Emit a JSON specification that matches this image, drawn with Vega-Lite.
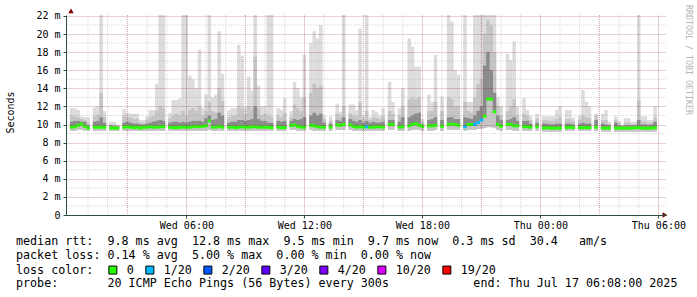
{
"$schema": "https://vega.github.io/schema/vega-lite/v6.json",
"width": 600, "height": 200,
"autosize": {"type": "none"},
"padding": {"left": 66, "top": 15, "right": 31, "bottom": 82},
"background": "#ffffff",
"title": {"text": ["median\u00a0rtt:\u00a0\u00a09.8\u00a0ms\u00a0avg\u00a0\u00a012.8\u00a0ms\u00a0max\u00a0\u00a09.5\u00a0ms\u00a0min\u00a0\u00a09.7\u00a0ms\u00a0now\u00a0\u00a00.3\u00a0ms\u00a0sd\u00a0\u00a030.4\u00a0\u00a0\u00a0am/s", "packet\u00a0loss:\u00a00.14\u00a0%\u00a0avg\u00a0\u00a05.00\u00a0%\u00a0max\u00a0\u00a00.00\u00a0%\u00a0min\u00a0\u00a00.00\u00a0%\u00a0now"],
  "subtitle": "probe:\u00a0\u00a0\u00a0\u00a0\u00a0\u00a0\u00a020\u00a0ICMP\u00a0Echo\u00a0Pings\u00a0(56\u00a0Bytes)\u00a0every\u00a0300s\u00a0\u00a0\u00a0\u00a0\u00a0\u00a0\u00a0\u00a0\u00a0\u00a0\u00a0\u00a0end:\u00a0Thu\u00a0Jul\u00a017\u00a006:08:00\u00a02025",
  "orient": "bottom", "anchor": "start", "frame": "group", "dx": -50, "offset": -41,
  "font": "DejaVu Sans Mono", "fontSize": 11.7, "fontWeight": "normal", "color": "#000000", "lineHeight": 14, "baseline": "top",
  "subtitleFont": "DejaVu Sans Mono", "subtitleFontSize": 11.7, "subtitleFontWeight": "normal", "subtitleColor": "#000000", "subtitleLineHeight": 14, "subtitlePadding": 16},
"datasets": {
"rtt": [
{"t":"2025-07-16T00:10:00Z","lo":9.3,"dk":10.3,"mh":11.0,"hi":11.8,"med":9.7,"loss":"0"},
{"t":"2025-07-16T00:20:00Z","lo":9.3,"dk":10.4,"mh":10.9,"hi":11.8,"med":9.75,"loss":"0"},
{"t":"2025-07-16T00:30:00Z","lo":9.4,"dk":10.4,"mh":10.8,"hi":11.6,"med":9.9,"loss":"0"},
{"t":"2025-07-16T00:40:00Z","lo":9.4,"dk":10.3,"mh":10.6,"hi":10.9,"med":10.05,"loss":"0"},
{"t":"2025-07-16T00:50:00Z","lo":9.3,"dk":10.3,"mh":10.5,"hi":10.8,"med":9.8,"loss":"0"},
{"t":"2025-07-16T01:00:00Z","lo":9.3,"dk":9.9,"mh":10.2,"hi":10.8,"med":9.6,"loss":"0"},
{"t":"2025-07-16T01:20:00Z","lo":9.3,"dk":10.3,"mh":10.9,"hi":11.9,"med":9.7,"loss":"0"},
{"t":"2025-07-16T01:30:00Z","lo":9.3,"dk":10.4,"mh":11.1,"hi":12.0,"med":9.7,"loss":"0"},
{"t":"2025-07-16T01:40:00Z","lo":9.3,"dk":10.8,"mh":13.5,"hi":22.1,"med":9.7,"loss":"0"},
{"t":"2025-07-16T01:50:00Z","lo":9.3,"dk":10.2,"mh":10.8,"hi":11.5,"med":9.7,"loss":"0"},
{"t":"2025-07-16T02:10:00Z","lo":9.3,"dk":9.9,"mh":10.0,"hi":10.3,"med":9.6,"loss":"0"},
{"t":"2025-07-16T02:20:00Z","lo":9.3,"dk":9.8,"mh":10.0,"hi":10.3,"med":9.6,"loss":"0"},
{"t":"2025-07-16T02:30:00Z","lo":9.3,"dk":9.8,"mh":9.9,"hi":10.0,"med":9.6,"loss":"0"},
{"t":"2025-07-16T02:50:00Z","lo":9.3,"dk":10.2,"mh":11.0,"hi":11.7,"med":9.7,"loss":"0"},
{"t":"2025-07-16T03:00:00Z","lo":9.3,"dk":10.3,"mh":10.8,"hi":11.3,"med":9.75,"loss":"0"},
{"t":"2025-07-16T03:10:00Z","lo":9.3,"dk":10.2,"mh":10.8,"hi":11.2,"med":9.7,"loss":"0"},
{"t":"2025-07-16T03:20:00Z","lo":9.3,"dk":10.1,"mh":10.6,"hi":11.2,"med":9.65,"loss":"0"},
{"t":"2025-07-16T03:30:00Z","lo":9.3,"dk":10.1,"mh":10.6,"hi":11.2,"med":9.7,"loss":"0"},
{"t":"2025-07-16T03:40:00Z","lo":9.3,"dk":10.0,"mh":10.2,"hi":10.5,"med":9.6,"loss":"0"},
{"t":"2025-07-16T03:50:00Z","lo":9.3,"dk":10.0,"mh":10.2,"hi":10.5,"med":9.7,"loss":"0"},
{"t":"2025-07-16T04:00:00Z","lo":9.3,"dk":10.1,"mh":10.5,"hi":10.9,"med":9.7,"loss":"0"},
{"t":"2025-07-16T04:10:00Z","lo":9.3,"dk":10.2,"mh":10.8,"hi":11.6,"med":9.75,"loss":"0"},
{"t":"2025-07-16T04:20:00Z","lo":9.3,"dk":10.3,"mh":10.9,"hi":11.6,"med":9.7,"loss":"0"},
{"t":"2025-07-16T04:30:00Z","lo":9.3,"dk":10.4,"mh":11.5,"hi":14.5,"med":9.7,"loss":"0"},
{"t":"2025-07-16T04:40:00Z","lo":9.3,"dk":10.5,"mh":12.0,"hi":22.1,"med":9.75,"loss":"0"},
{"t":"2025-07-16T04:50:00Z","lo":9.3,"dk":10.4,"mh":11.8,"hi":22.1,"med":9.75,"loss":"0"},
{"t":"2025-07-16T05:10:00Z","lo":9.3,"dk":10.2,"mh":10.7,"hi":11.3,"med":9.7,"loss":"0"},
{"t":"2025-07-16T05:20:00Z","lo":9.3,"dk":10.3,"mh":11.0,"hi":12.7,"med":9.65,"loss":"0"},
{"t":"2025-07-16T05:30:00Z","lo":9.3,"dk":10.3,"mh":11.2,"hi":12.7,"med":9.65,"loss":"0"},
{"t":"2025-07-16T05:40:00Z","lo":9.3,"dk":10.2,"mh":11.0,"hi":12.9,"med":9.7,"loss":"0"},
{"t":"2025-07-16T05:50:00Z","lo":9.3,"dk":10.3,"mh":11.5,"hi":22.1,"med":9.7,"loss":"0"},
{"t":"2025-07-16T06:00:00Z","lo":9.3,"dk":10.2,"mh":11.0,"hi":22.1,"med":9.7,"loss":"0"},
{"t":"2025-07-16T06:10:00Z","lo":9.3,"dk":10.3,"mh":11.6,"hi":15.4,"med":9.7,"loss":"0"},
{"t":"2025-07-16T06:20:00Z","lo":9.3,"dk":10.4,"mh":11.8,"hi":15.0,"med":9.75,"loss":"0"},
{"t":"2025-07-16T06:30:00Z","lo":9.3,"dk":10.4,"mh":11.5,"hi":14.0,"med":9.8,"loss":"0"},
{"t":"2025-07-16T06:40:00Z","lo":9.3,"dk":10.4,"mh":12.0,"hi":18.3,"med":9.75,"loss":"0"},
{"t":"2025-07-16T06:50:00Z","lo":9.3,"dk":10.3,"mh":11.0,"hi":11.8,"med":9.8,"loss":"0"},
{"t":"2025-07-16T07:00:00Z","lo":9.3,"dk":10.7,"mh":11.5,"hi":13.3,"med":9.85,"loss":"0"},
{"t":"2025-07-16T07:10:00Z","lo":9.4,"dk":11.0,"mh":12.5,"hi":22.1,"med":10.4,"loss":"0"},
{"t":"2025-07-16T07:20:00Z","lo":9.3,"dk":10.5,"mh":11.5,"hi":13.0,"med":9.7,"loss":"0"},
{"t":"2025-07-16T07:30:00Z","lo":9.3,"dk":10.6,"mh":11.3,"hi":13.3,"med":9.7,"loss":"0"},
{"t":"2025-07-16T07:40:00Z","lo":9.3,"dk":11.3,"mh":14.0,"hi":20.3,"med":9.8,"loss":"0"},
{"t":"2025-07-16T07:50:00Z","lo":9.3,"dk":11.0,"mh":12.6,"hi":15.6,"med":9.7,"loss":"0"},
{"t":"2025-07-16T08:10:00Z","lo":9.3,"dk":10.2,"mh":10.8,"hi":11.6,"med":9.7,"loss":"0"},
{"t":"2025-07-16T08:20:00Z","lo":9.3,"dk":10.3,"mh":11.0,"hi":11.8,"med":9.7,"loss":"0"},
{"t":"2025-07-16T08:30:00Z","lo":9.3,"dk":10.3,"mh":11.0,"hi":11.8,"med":9.65,"loss":"0"},
{"t":"2025-07-16T08:40:00Z","lo":9.3,"dk":10.5,"mh":12.0,"hi":18.8,"med":9.7,"loss":"0"},
{"t":"2025-07-16T08:50:00Z","lo":9.3,"dk":10.5,"mh":11.8,"hi":17.6,"med":9.75,"loss":"0"},
{"t":"2025-07-16T09:00:00Z","lo":9.3,"dk":10.4,"mh":11.2,"hi":11.9,"med":9.7,"loss":"0"},
{"t":"2025-07-16T09:10:00Z","lo":9.3,"dk":10.5,"mh":12.0,"hi":15.3,"med":9.7,"loss":"0"},
{"t":"2025-07-16T09:20:00Z","lo":9.3,"dk":10.6,"mh":11.8,"hi":13.8,"med":9.75,"loss":"0"},
{"t":"2025-07-16T09:30:00Z","lo":9.3,"dk":12.0,"mh":17.5,"hi":22.1,"med":9.75,"loss":"0"},
{"t":"2025-07-16T09:40:00Z","lo":9.3,"dk":10.6,"mh":11.8,"hi":14.3,"med":9.7,"loss":"0"},
{"t":"2025-07-16T09:50:00Z","lo":9.3,"dk":10.4,"mh":11.0,"hi":12.0,"med":9.7,"loss":"0"},
{"t":"2025-07-16T10:00:00Z","lo":9.3,"dk":10.4,"mh":11.2,"hi":12.0,"med":9.7,"loss":"0"},
{"t":"2025-07-16T10:10:00Z","lo":9.3,"dk":10.2,"mh":11.0,"hi":22.1,"med":9.7,"loss":"0"},
{"t":"2025-07-16T10:20:00Z","lo":9.3,"dk":10.2,"mh":10.8,"hi":22.1,"med":9.65,"loss":"0"},
{"t":"2025-07-16T10:40:00Z","lo":9.3,"dk":10.4,"mh":11.0,"hi":11.8,"med":9.7,"loss":"0"},
{"t":"2025-07-16T10:50:00Z","lo":9.3,"dk":10.3,"mh":10.8,"hi":11.6,"med":9.65,"loss":"0"},
{"t":"2025-07-16T11:00:00Z","lo":9.3,"dk":10.4,"mh":11.3,"hi":12.9,"med":9.65,"loss":"0"},
{"t":"2025-07-16T11:20:00Z","lo":9.4,"dk":10.4,"mh":10.8,"hi":11.5,"med":9.9,"loss":"0"},
{"t":"2025-07-16T11:30:00Z","lo":9.4,"dk":10.6,"mh":12.2,"hi":14.7,"med":9.95,"loss":"0"},
{"t":"2025-07-16T11:40:00Z","lo":9.3,"dk":10.5,"mh":11.8,"hi":14.0,"med":9.8,"loss":"0"},
{"t":"2025-07-16T11:50:00Z","lo":9.3,"dk":10.6,"mh":11.5,"hi":13.0,"med":9.7,"loss":"0"},
{"t":"2025-07-16T12:00:00Z","lo":9.3,"dk":10.8,"mh":13.0,"hi":17.7,"med":9.7,"loss":"0"},
{"t":"2025-07-16T12:20:00Z","lo":9.4,"dk":11.0,"mh":13.5,"hi":19.0,"med":9.9,"loss":"0"},
{"t":"2025-07-16T12:30:00Z","lo":9.3,"dk":11.3,"mh":14.5,"hi":20.3,"med":9.85,"loss":"0"},
{"t":"2025-07-16T12:40:00Z","lo":9.3,"dk":11.0,"mh":14.0,"hi":19.5,"med":9.75,"loss":"0"},
{"t":"2025-07-16T12:50:00Z","lo":9.3,"dk":11.2,"mh":14.3,"hi":21.0,"med":9.7,"loss":"0"},
{"t":"2025-07-16T13:00:00Z","lo":9.3,"dk":10.2,"mh":10.6,"hi":11.0,"med":9.7,"loss":"0"},
{"t":"2025-07-16T13:20:00Z","lo":9.3,"dk":10.1,"mh":10.4,"hi":10.9,"med":9.7,"loss":"0"},
{"t":"2025-07-16T13:40:00Z","lo":9.4,"dk":10.5,"mh":11.2,"hi":12.3,"med":9.95,"loss":"0"},
{"t":"2025-07-16T13:50:00Z","lo":9.4,"dk":10.4,"mh":10.9,"hi":11.4,"med":9.9,"loss":"0"},
{"t":"2025-07-16T14:00:00Z","lo":9.4,"dk":10.8,"mh":12.0,"hi":22.1,"med":10.0,"loss":"0"},
{"t":"2025-07-16T14:20:00Z","lo":9.4,"dk":10.6,"mh":11.2,"hi":12.2,"med":9.95,"loss":"0"},
{"t":"2025-07-16T14:30:00Z","lo":9.3,"dk":10.4,"mh":11.0,"hi":12.2,"med":9.8,"loss":"0"},
{"t":"2025-07-16T14:40:00Z","lo":9.3,"dk":10.3,"mh":10.9,"hi":11.6,"med":9.7,"loss":"0"},
{"t":"2025-07-16T14:50:00Z","lo":9.3,"dk":10.5,"mh":12.5,"hi":20.6,"med":9.75,"loss":"0"},
{"t":"2025-07-16T15:00:00Z","lo":9.3,"dk":10.2,"mh":10.6,"hi":11.0,"med":9.7,"loss":"0"},
{"t":"2025-07-16T15:10:00Z","lo":9.3,"dk":10.4,"mh":11.5,"hi":22.1,"med":9.75,"loss":"1/20"},
{"t":"2025-07-16T15:20:00Z","lo":9.3,"dk":10.2,"mh":10.5,"hi":10.8,"med":9.7,"loss":"0"},
{"t":"2025-07-16T15:30:00Z","lo":9.3,"dk":10.3,"mh":10.8,"hi":11.6,"med":9.7,"loss":"0"},
{"t":"2025-07-16T15:40:00Z","lo":9.3,"dk":10.2,"mh":10.7,"hi":11.4,"med":9.75,"loss":"0"},
{"t":"2025-07-16T15:50:00Z","lo":9.3,"dk":10.2,"mh":10.6,"hi":11.0,"med":9.75,"loss":"0"},
{"t":"2025-07-16T16:00:00Z","lo":9.3,"dk":10.3,"mh":10.9,"hi":11.8,"med":9.7,"loss":"0"},
{"t":"2025-07-16T16:20:00Z","lo":9.4,"dk":10.5,"mh":11.5,"hi":14.7,"med":10.0,"loss":"0"},
{"t":"2025-07-16T16:30:00Z","lo":9.4,"dk":10.5,"mh":11.2,"hi":12.5,"med":10.0,"loss":"0"},
{"t":"2025-07-16T16:50:00Z","lo":9.3,"dk":10.3,"mh":11.0,"hi":11.8,"med":9.7,"loss":"0"},
{"t":"2025-07-16T17:00:00Z","lo":9.3,"dk":10.8,"mh":12.0,"hi":14.0,"med":9.75,"loss":"0"},
{"t":"2025-07-16T17:20:00Z","lo":9.3,"dk":10.8,"mh":12.8,"hi":19.5,"med":9.85,"loss":"0"},
{"t":"2025-07-16T17:30:00Z","lo":9.4,"dk":11.0,"mh":13.0,"hi":18.6,"med":10.0,"loss":"0"},
{"t":"2025-07-16T17:40:00Z","lo":9.4,"dk":11.2,"mh":12.8,"hi":16.4,"med":10.1,"loss":"0"},
{"t":"2025-07-16T17:50:00Z","lo":9.4,"dk":11.3,"mh":13.0,"hi":16.4,"med":9.9,"loss":"0"},
{"t":"2025-07-16T18:00:00Z","lo":9.3,"dk":10.0,"mh":10.3,"hi":10.6,"med":9.8,"loss":"0"},
{"t":"2025-07-16T18:20:00Z","lo":9.3,"dk":10.5,"mh":11.5,"hi":13.3,"med":9.85,"loss":"0"},
{"t":"2025-07-16T18:30:00Z","lo":9.3,"dk":10.6,"mh":11.5,"hi":12.5,"med":9.85,"loss":"0"},
{"t":"2025-07-16T18:40:00Z","lo":9.4,"dk":10.8,"mh":12.5,"hi":17.7,"med":9.9,"loss":"0"},
{"t":"2025-07-16T19:00:00Z","lo":9.3,"dk":10.5,"mh":11.5,"hi":13.1,"med":9.8,"loss":"0"},
{"t":"2025-07-16T19:20:00Z","lo":9.4,"dk":10.8,"mh":13.0,"hi":22.1,"med":10.0,"loss":"0"},
{"t":"2025-07-16T19:30:00Z","lo":9.4,"dk":10.8,"mh":12.8,"hi":21.4,"med":10.05,"loss":"0"},
{"t":"2025-07-16T19:40:00Z","lo":9.4,"dk":10.6,"mh":12.0,"hi":16.0,"med":10.0,"loss":"0"},
{"t":"2025-07-16T19:50:00Z","lo":9.4,"dk":10.6,"mh":12.0,"hi":15.5,"med":9.9,"loss":"0"},
{"t":"2025-07-16T20:10:00Z","lo":9.3,"dk":10.8,"mh":12.5,"hi":22.1,"med":9.75,"loss":"1/20"},
{"t":"2025-07-16T20:20:00Z","lo":9.4,"dk":10.7,"mh":11.5,"hi":12.5,"med":10.0,"loss":"0"},
{"t":"2025-07-16T20:30:00Z","lo":9.4,"dk":10.6,"mh":11.3,"hi":12.5,"med":10.0,"loss":"0"},
{"t":"2025-07-16T20:40:00Z","lo":9.4,"dk":11.0,"mh":13.0,"hi":22.1,"med":10.0,"loss":"1/20"},
{"t":"2025-07-16T20:50:00Z","lo":9.5,"dk":11.5,"mh":14.5,"hi":22.1,"med":10.2,"loss":"1/20"},
{"t":"2025-07-16T21:00:00Z","lo":9.5,"dk":12.0,"mh":15.0,"hi":22.1,"med":10.5,"loss":"1/20"},
{"t":"2025-07-16T21:10:00Z","lo":9.6,"dk":16.5,"mh":20.0,"hi":22.1,"med":10.9,"loss":"0"},
{"t":"2025-07-16T21:20:00Z","lo":9.7,"dk":18.0,"mh":21.5,"hi":22.1,"med":12.8,"loss":"0"},
{"t":"2025-07-16T21:30:00Z","lo":9.7,"dk":16.0,"mh":21.0,"hi":22.1,"med":12.8,"loss":"0"},
{"t":"2025-07-16T21:40:00Z","lo":9.6,"dk":13.5,"mh":18.0,"hi":22.1,"med":11.4,"loss":"0"},
{"t":"2025-07-16T21:50:00Z","lo":9.4,"dk":11.0,"mh":12.0,"hi":13.0,"med":10.0,"loss":"0"},
{"t":"2025-07-16T22:00:00Z","lo":9.3,"dk":10.5,"mh":11.0,"hi":12.0,"med":9.8,"loss":"0"},
{"t":"2025-07-16T22:20:00Z","lo":9.4,"dk":10.5,"mh":11.5,"hi":17.8,"med":10.0,"loss":"0"},
{"t":"2025-07-16T22:30:00Z","lo":9.4,"dk":10.6,"mh":12.0,"hi":17.1,"med":10.0,"loss":"0"},
{"t":"2025-07-16T22:40:00Z","lo":9.3,"dk":10.8,"mh":12.8,"hi":19.2,"med":9.85,"loss":"0"},
{"t":"2025-07-16T22:50:00Z","lo":9.3,"dk":10.4,"mh":11.0,"hi":12.0,"med":9.85,"loss":"0"},
{"t":"2025-07-16T23:10:00Z","lo":9.3,"dk":10.4,"mh":11.2,"hi":12.9,"med":9.75,"loss":"0"},
{"t":"2025-07-16T23:20:00Z","lo":9.3,"dk":10.4,"mh":11.0,"hi":11.6,"med":9.75,"loss":"0"},
{"t":"2025-07-16T23:30:00Z","lo":9.3,"dk":10.1,"mh":10.5,"hi":11.0,"med":9.7,"loss":"0"},
{"t":"2025-07-16T23:50:00Z","lo":9.3,"dk":10.2,"mh":10.7,"hi":11.2,"med":9.75,"loss":"0"},
{"t":"2025-07-17T00:10:00Z","lo":9.2,"dk":10.1,"mh":10.5,"hi":10.9,"med":9.6,"loss":"0"},
{"t":"2025-07-17T00:20:00Z","lo":9.2,"dk":10.1,"mh":10.5,"hi":10.9,"med":9.65,"loss":"0"},
{"t":"2025-07-17T00:30:00Z","lo":9.2,"dk":10.0,"mh":10.4,"hi":10.9,"med":9.6,"loss":"0"},
{"t":"2025-07-17T00:40:00Z","lo":9.2,"dk":10.0,"mh":10.4,"hi":10.9,"med":9.6,"loss":"0"},
{"t":"2025-07-17T00:50:00Z","lo":9.2,"dk":10.1,"mh":10.6,"hi":11.6,"med":9.6,"loss":"0"},
{"t":"2025-07-17T01:00:00Z","lo":9.2,"dk":10.1,"mh":10.8,"hi":12.0,"med":9.6,"loss":"0"},
{"t":"2025-07-17T01:20:00Z","lo":9.3,"dk":10.1,"mh":10.6,"hi":11.6,"med":9.65,"loss":"0"},
{"t":"2025-07-17T01:30:00Z","lo":9.3,"dk":10.1,"mh":10.6,"hi":11.6,"med":9.7,"loss":"0"},
{"t":"2025-07-17T01:40:00Z","lo":9.3,"dk":10.0,"mh":10.4,"hi":10.8,"med":9.65,"loss":"0"},
{"t":"2025-07-17T02:00:00Z","lo":9.3,"dk":10.1,"mh":10.5,"hi":11.0,"med":9.65,"loss":"0"},
{"t":"2025-07-17T02:10:00Z","lo":9.3,"dk":10.2,"mh":11.0,"hi":13.8,"med":9.65,"loss":"0"},
{"t":"2025-07-17T02:20:00Z","lo":9.3,"dk":10.1,"mh":10.8,"hi":12.5,"med":9.65,"loss":"0"},
{"t":"2025-07-17T02:30:00Z","lo":9.3,"dk":10.1,"mh":10.7,"hi":12.0,"med":9.65,"loss":"0"},
{"t":"2025-07-17T02:50:00Z","lo":9.3,"dk":10.5,"mh":11.0,"hi":11.2,"med":9.7,"loss":"0"},
{"t":"2025-07-17T03:10:00Z","lo":9.2,"dk":10.1,"mh":10.5,"hi":11.2,"med":9.6,"loss":"0"},
{"t":"2025-07-17T03:20:00Z","lo":9.2,"dk":10.0,"mh":10.5,"hi":11.6,"med":9.6,"loss":"0"},
{"t":"2025-07-17T03:30:00Z","lo":9.2,"dk":9.9,"mh":10.1,"hi":10.3,"med":9.6,"loss":"0"},
{"t":"2025-07-17T03:50:00Z","lo":9.2,"dk":10.2,"mh":10.5,"hi":10.9,"med":9.6,"loss":"0"},
{"t":"2025-07-17T04:00:00Z","lo":9.2,"dk":9.9,"mh":10.2,"hi":10.4,"med":9.6,"loss":"0"},
{"t":"2025-07-17T04:10:00Z","lo":9.2,"dk":9.8,"mh":9.9,"hi":10.0,"med":9.6,"loss":"0"},
{"t":"2025-07-17T04:20:00Z","lo":9.2,"dk":9.9,"mh":10.2,"hi":10.7,"med":9.6,"loss":"0"},
{"t":"2025-07-17T04:30:00Z","lo":9.2,"dk":9.9,"mh":10.2,"hi":10.7,"med":9.6,"loss":"0"},
{"t":"2025-07-17T04:40:00Z","lo":9.2,"dk":9.9,"mh":10.0,"hi":10.3,"med":9.6,"loss":"0"},
{"t":"2025-07-17T04:50:00Z","lo":9.2,"dk":9.9,"mh":10.1,"hi":10.3,"med":9.65,"loss":"0"},
{"t":"2025-07-17T05:00:00Z","lo":9.2,"dk":10.5,"mh":12.7,"hi":22.1,"med":9.65,"loss":"0"},
{"t":"2025-07-17T05:10:00Z","lo":9.2,"dk":10.0,"mh":10.4,"hi":10.9,"med":9.6,"loss":"0"},
{"t":"2025-07-17T05:20:00Z","lo":9.2,"dk":10.0,"mh":10.3,"hi":10.9,"med":9.6,"loss":"0"},
{"t":"2025-07-17T05:30:00Z","lo":9.2,"dk":9.9,"mh":10.2,"hi":10.5,"med":9.6,"loss":"0"},
{"t":"2025-07-17T05:40:00Z","lo":9.2,"dk":10.0,"mh":10.2,"hi":10.5,"med":9.6,"loss":"0"},
{"t":"2025-07-17T05:50:00Z","lo":9.2,"dk":10.3,"mh":10.8,"hi":12.0,"med":9.65,"loss":"0"}
],
"hgrid": [{"v":1},{"v":3},{"v":5},{"v":7},{"v":9},{"v":11},{"v":13},{"v":15},{"v":17},{"v":19},{"v":21}],
"vgrid": [
{"t":"2025-07-16T01:00:00Z","kind":"minor"},{"t":"2025-07-16T02:00:00Z","kind":"minor"},{"t":"2025-07-16T03:00:00Z","kind":"major"},
{"t":"2025-07-16T04:00:00Z","kind":"minor"},{"t":"2025-07-16T05:00:00Z","kind":"minor"},
{"t":"2025-07-16T07:00:00Z","kind":"minor"},{"t":"2025-07-16T08:00:00Z","kind":"minor"},{"t":"2025-07-16T09:00:00Z","kind":"major"},
{"t":"2025-07-16T10:00:00Z","kind":"minor"},{"t":"2025-07-16T11:00:00Z","kind":"minor"},
{"t":"2025-07-16T13:00:00Z","kind":"minor"},{"t":"2025-07-16T14:00:00Z","kind":"minor"},{"t":"2025-07-16T15:00:00Z","kind":"major"},
{"t":"2025-07-16T16:00:00Z","kind":"minor"},{"t":"2025-07-16T17:00:00Z","kind":"minor"},
{"t":"2025-07-16T19:00:00Z","kind":"minor"},{"t":"2025-07-16T20:00:00Z","kind":"minor"},{"t":"2025-07-16T21:00:00Z","kind":"major"},
{"t":"2025-07-16T22:00:00Z","kind":"minor"},{"t":"2025-07-16T23:00:00Z","kind":"minor"},
{"t":"2025-07-17T01:00:00Z","kind":"minor"},{"t":"2025-07-17T02:00:00Z","kind":"minor"},{"t":"2025-07-17T03:00:00Z","kind":"major"},
{"t":"2025-07-17T04:00:00Z","kind":"minor"},{"t":"2025-07-17T05:00:00Z","kind":"minor"}
],
"marks": [
{"t":"2025-07-16T00:08:00Z","v":22.55,"shape":"triangle-up"},
{"t":"2025-07-17T06:20:00Z","v":0,"shape":"triangle-right"}
],
"watermark": [
{"t":"2025-07-17T07:29:00Z","v":23.2,"label":"RRDTOOL / TOBI OETIKER"}
]
},
"data": {"name": "rtt"},
"layer": [
{"mark": {"type": "bar", "width": 3.5, "color": "#dcdcdc", "opacity": 1},
 "encoding": {
  "x": {"field": "t", "type": "temporal",
    "scale": {"type": "utc", "domain": [{"year": 2025, "month": 7, "date": 16, "hours": 0, "minutes": 8, "utc": true}, {"year": 2025, "month": 7, "date": 17, "hours": 6, "minutes": 8, "utc": true}]},
    "axis": {"title": null, "tickCount": 40,
      "values": [{"year":2025,"month":7,"date":16,"hours":6,"utc":true},{"year":2025,"month":7,"date":16,"hours":12,"utc":true},{"year":2025,"month":7,"date":16,"hours":18,"utc":true},{"year":2025,"month":7,"date":17,"hours":0,"utc":true},{"year":2025,"month":7,"date":17,"hours":6,"utc":true}],
      "format": "%a %H:%M", "labelOverlap": false, "labelFlush": false,
      "labelFont": "DejaVu Sans Mono", "labelFontSize": 10, "labelColor": "#000000", "labelPadding": 2,
      "tickSize": 3, "tickColor": "#2c4d43", "domainColor": "#2c4d43",
      "grid": true, "gridColor": "#821e1e", "gridOpacity": 0.41, "gridDash": [1, 1], "zindex": 1}},
  "y": {"field": "lo", "type": "quantitative",
    "scale": {"domain": [0, 22.1], "nice": false, "zero": true},
    "axis": {"title": "Seconds", "tickCount": 40, "values": [0,2,4,6,8,10,12,14,16,18,20,22],
      "labelExpr": "datum.value == 0 ? '0' : datum.value + '\u00a0m'",
      "labelOverlap": false, "labelBound": false,
      "labelFont": "DejaVu Sans Mono", "labelFontSize": 10, "labelColor": "#000000", "labelPadding": 3,
      "tickSize": 3, "tickColor": "#2c4d43", "domainColor": "#2c4d43",
      "grid": true, "gridColor": "#821e1e", "gridOpacity": 0.41, "gridDash": [1, 1], "zindex": 1,
      "titleFont": "DejaVu Sans Mono", "titleFontSize": 10, "titleFontWeight": "normal", "titleColor": "#000000",
      "titleX": -56, "titleY": 97, "titleAngle": -90, "titleAlign": "center", "titleBaseline": "middle"}},
  "y2": {"field": "hi"}}},
{"mark": {"type": "bar", "width": 3.5, "color": "#c4c4c4", "opacity": 1},
 "encoding": {
  "x": {"field": "t", "type": "temporal", "scale": {"type": "utc", "domain": [{"year": 2025, "month": 7, "date": 16, "hours": 0, "minutes": 8, "utc": true}, {"year": 2025, "month": 7, "date": 17, "hours": 6, "minutes": 8, "utc": true}]}},
  "y": {"field": "lo", "type": "quantitative", "scale": {"domain": [0, 22.1], "nice": false, "zero": true}},
  "y2": {"field": "mh"}}},
{"mark": {"type": "bar", "width": 3.5, "color": "#8a8a8a", "opacity": 1},
 "encoding": {
  "x": {"field": "t", "type": "temporal", "scale": {"type": "utc", "domain": [{"year": 2025, "month": 7, "date": 16, "hours": 0, "minutes": 8, "utc": true}, {"year": 2025, "month": 7, "date": 17, "hours": 6, "minutes": 8, "utc": true}]}},
  "y": {"field": "med", "type": "quantitative", "scale": {"domain": [0, 22.1], "nice": false, "zero": true}},
  "y2": {"field": "dk"}}},
{"data": {"name": "hgrid"},
 "mark": {"type": "rule", "color": "#8c8c8c", "opacity": 0.35, "strokeDash": [1, 1], "strokeWidth": 1},
 "encoding": {
  "y": {"field": "v", "type": "quantitative", "scale": {"domain": [0, 22.1], "nice": false, "zero": true}}}},
{"data": {"name": "vgrid"},
 "mark": {"type": "rule", "strokeDash": [1, 1], "strokeWidth": 1, "opacity": 1},
 "encoding": {
  "x": {"field": "t", "type": "temporal", "scale": {"type": "utc", "domain": [{"year": 2025, "month": 7, "date": 16, "hours": 0, "minutes": 8, "utc": true}, {"year": 2025, "month": 7, "date": 17, "hours": 6, "minutes": 8, "utc": true}]}},
  "stroke": {"field": "kind", "type": "nominal", "scale": {"domain": ["major", "minor"], "range": ["rgba(130,30,30,0.41)", "rgba(140,140,140,0.35)"]}, "legend": null}}},
{"mark": {"type": "tick", "orient": "horizontal", "thickness": 3, "size": 3.6, "opacity": 1},
 "encoding": {
  "x": {"field": "t", "type": "temporal", "scale": {"type": "utc", "domain": [{"year": 2025, "month": 7, "date": 16, "hours": 0, "minutes": 8, "utc": true}, {"year": 2025, "month": 7, "date": 17, "hours": 6, "minutes": 8, "utc": true}]}},
  "y": {"field": "med", "type": "quantitative", "scale": {"domain": [0, 22.1], "nice": false, "zero": true}},
  "color": {"field": "loss", "type": "nominal",
    "scale": {"domain": ["0", "1/20", "2/20", "3/20", "4/20", "10/20", "19/20"], "range": ["#26ff00", "#00b8ff", "#0059ff", "#5e00ff", "#7e00ff", "#dd00ff", "#ff0000"]},
    "legend": {"title": "loss color:", "orient": "none", "legendX": -50, "legendY": 249, "direction": "horizontal", "columns": 7,
      "titleOrient": "left", "titleFont": "DejaVu Sans Mono", "titleFontSize": 11.7, "titleFontWeight": "normal", "titleColor": "#000000", "titlePadding": 13,
      "labelFont": "DejaVu Sans Mono", "labelFontSize": 11.7, "labelColor": "#000000", "labelOffset": 8,
      "symbolType": "square", "symbolSize": 64, "symbolStrokeColor": "#000000", "symbolStrokeWidth": 1, "symbolOpacity": 1,
      "columnPadding": 9, "padding": 0}}}},
{"data": {"name": "marks"},
 "mark": {"type": "point", "filled": true, "size": 30, "color": "#7f0000", "opacity": 1},
 "encoding": {
  "x": {"field": "t", "type": "temporal", "scale": {"type": "utc", "domain": [{"year": 2025, "month": 7, "date": 16, "hours": 0, "minutes": 8, "utc": true}, {"year": 2025, "month": 7, "date": 17, "hours": 6, "minutes": 8, "utc": true}]}},
  "y": {"field": "v", "type": "quantitative", "scale": {"domain": [0, 22.1], "nice": false, "zero": true}},
  "shape": {"field": "shape", "type": "nominal", "scale": null}}},
{"data": {"name": "watermark"},
 "mark": {"type": "text", "angle": 90, "align": "left", "baseline": "middle", "font": "DejaVu Sans Mono", "fontSize": 8.3, "color": "#b4b4b4"},
 "encoding": {
  "x": {"field": "t", "type": "temporal", "scale": {"type": "utc", "domain": [{"year": 2025, "month": 7, "date": 16, "hours": 0, "minutes": 8, "utc": true}, {"year": 2025, "month": 7, "date": 17, "hours": 6, "minutes": 8, "utc": true}]}},
  "y": {"field": "v", "type": "quantitative", "scale": {"domain": [0, 22.1], "nice": false, "zero": true}},
  "text": {"field": "label"}}}
],
"config": {"view": {"stroke": null}}
}
